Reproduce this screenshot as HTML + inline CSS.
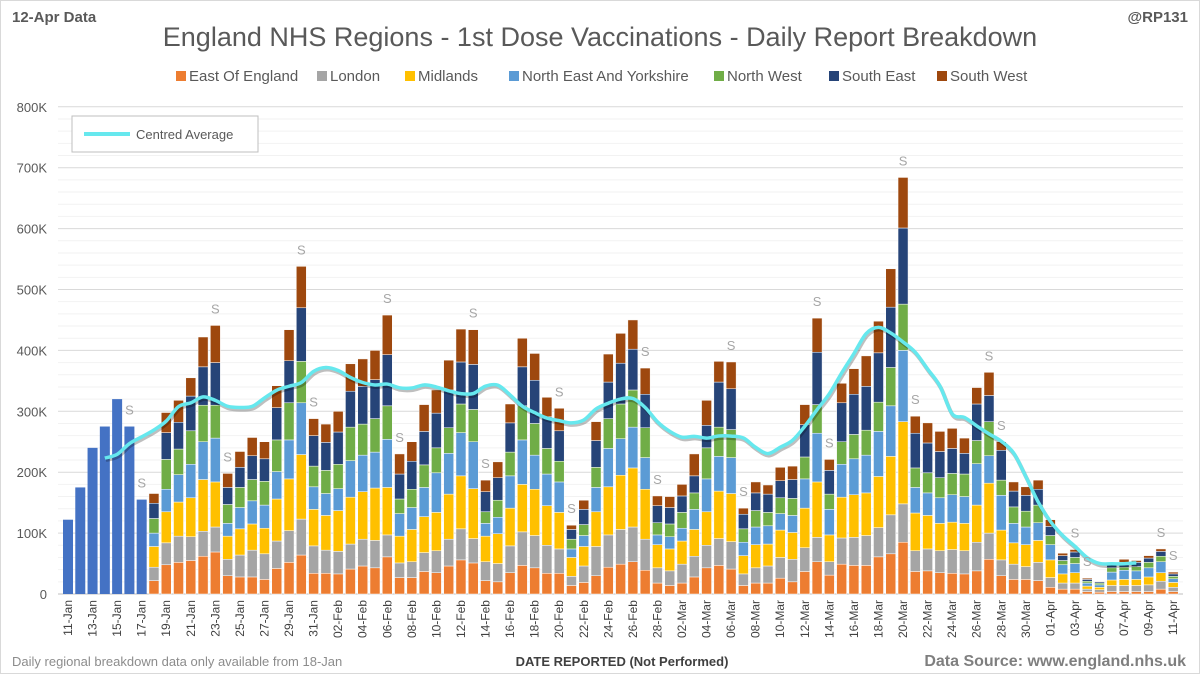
<!DOCTYPE html>
<html><head><meta charset="utf-8"><style>
body{margin:0;background:#fff;}
svg{display:block;font-family:"Liberation Sans",sans-serif;}
</style></head><body>
<svg id="chart" width="1200" height="674" viewBox="0 0 1200 674">
<rect x="0.5" y="0.5" width="1199" height="673" fill="#fff" stroke="#d9d9d9"/>
<text x="12" y="22" font-size="15" font-weight="bold" fill="#595959">12-Apr Data</text>
<text x="1188" y="22" font-size="15" font-weight="bold" fill="#595959" text-anchor="end">@RP131</text>
<text x="600" y="46" font-size="27" fill="#595959" text-anchor="middle">England NHS Regions - 1st Dose Vaccinations - Daily Report Breakdown</text>
<g id="grid"></g><g id="bars"></g><g id="avg"></g><g id="labels"></g><g id="legend"></g>
<rect x="72" y="116" width="186" height="36" fill="#fff" stroke="#bfbfbf"/>
<line x1="84" y1="134" x2="130" y2="134" stroke="#66E8EE" stroke-width="4"/>
<text x="136" y="139" font-size="13" fill="#595959">Centred Average</text>
<text x="12" y="666" font-size="13" fill="#8c8c8c">Daily regional breakdown data only available from 18-Jan</text>
<text x="622" y="666" font-size="13" font-weight="bold" fill="#404040" text-anchor="middle">DATE REPORTED (Not Performed)</text>
<text x="1186" y="666" font-size="16" font-weight="bold" fill="#7f7f7f" text-anchor="end">Data Source: www.england.nhs.uk</text>
</svg>
<script>
const preTotals=[122,175,240,275,320,275,155];
const eastEngland=[22,48,52,55,62,69,30,28,28,24,42,52,64,34,34,33,41,46,43,61,27,27,37,35,46,56,51,22,20,35,47,43,34,34,14,19,30,44,49,53,39,18,14,18,28,43,47,41,14,18,18,26,20,37,53,31,49,47,47,61,66,85,37,38,35,34,33,38,57,30,24,24,22,11,8,8,4,3,4,4,4,4,8,4];
const london=[22,36,43,39,41,41,27,36,44,42,45,52,59,45,38,37,41,44,45,36,24,26,31,36,44,51,40,31,30,44,55,53,46,40,15,27,48,53,57,57,51,25,24,31,34,37,44,45,19,25,28,34,37,39,40,22,43,46,49,48,64,63,34,36,36,39,38,47,43,26,25,21,30,16,10,10,4,4,10,10,10,11,13,7];
const midlands=[34,51,56,64,85,74,38,43,43,42,69,85,106,60,57,67,77,78,86,78,44,53,59,63,74,87,82,42,49,62,78,76,65,60,31,32,57,79,89,97,82,38,36,38,44,55,78,79,30,38,36,45,44,65,91,44,67,70,70,84,96,135,62,55,45,45,45,61,82,49,35,36,36,29,15,17,5,4,9,10,10,13,14,8];
const neYorks=[22,37,45,55,62,72,21,35,38,38,45,64,85,37,36,36,60,60,59,79,37,36,48,65,67,71,77,21,27,53,73,56,52,50,14,18,40,63,60,67,52,16,20,21,33,54,57,59,22,29,30,27,28,48,80,42,54,59,62,74,83,117,42,37,42,45,44,68,45,57,32,29,29,25,15,15,5,4,13,15,14,15,18,6];
const northWest=[24,49,42,55,60,54,31,33,35,39,52,61,68,34,38,40,55,51,55,55,24,30,37,41,42,47,53,19,28,39,56,52,42,34,16,18,33,49,57,61,49,20,21,26,27,51,48,46,22,27,22,26,28,36,47,25,37,40,41,48,63,76,32,33,33,35,37,38,56,25,27,26,29,15,7,10,3,3,7,5,7,9,9,4];
const southEast=[25,44,44,57,63,70,28,33,39,37,53,69,88,50,46,53,59,62,64,84,41,46,55,57,62,69,74,33,37,48,64,71,52,50,16,25,44,60,67,67,55,28,27,27,28,37,74,67,24,29,30,28,31,53,86,39,64,66,72,81,99,125,57,49,43,41,34,60,43,49,26,26,26,15,8,9,3,2,5,8,7,7,8,4];
const southWest=[16,33,36,30,49,61,23,26,30,28,36,51,68,28,30,34,45,45,48,65,33,32,44,38,49,54,57,19,26,31,47,44,32,37,7,15,31,46,49,48,43,16,18,19,36,41,34,44,10,18,15,22,22,33,56,18,32,42,50,52,63,83,28,33,33,33,25,27,38,14,15,14,15,11,4,4,2,1,4,5,3,4,4,3];
const regionNames=["East Of England","London","Midlands","North East And Yorkshire","North West","South East","South West"];
const yTicks=[0,100,200,300,400,500,600,700,800];
const yTickLabels=["0","100K","200K","300K","400K","500K","600K","700K","800K"];

const NS="http://www.w3.org/2000/svg";
const colors=["#ED7D31","#A5A5A5","#FFC000","#5B9BD5","#70AD47","#264478","#9E480E"];
const series=[eastEngland,london,midlands,neYorks,northWest,southEast,southWest];
const nDays=preTotals.length+eastEngland.length;
const x0=68,dx=12.28,y0=594,yPer=0.609,bw=10;
const X=i=>x0+i*dx;
const Y=v=>y0-v*yPer;
const months=["Jan","Feb","Mar","Apr"],mdays=[31,28,31,30];
function dateOf(i){let d=11+i,m=0;while(d>mdays[m]){d-=mdays[m];m++;}return {d,m};}
function mk(tag,attrs,parent){const e=document.createElementNS(NS,tag);for(const k in attrs)e.setAttribute(k,attrs[k]);parent.appendChild(e);return e;}
const grid=document.getElementById('grid'),bars=document.getElementById('bars'),labels=document.getElementById('labels'),legend=document.getElementById('legend'),avgG=document.getElementById('avg');
// minor grid
for(let v=20;v<=800;v+=20){if(v%100===0)continue;const l=mk('line',{x1:58,x2:1183,y1:Y(v),y2:Y(v),stroke:'#f2f2f2','stroke-width':1},grid);

}
yTicks.forEach((v,k)=>{const l=mk('line',{x1:58,x2:1183,y1:Y(v),y2:Y(v),stroke:v===0?'#bfbfbf':'#d9d9d9','stroke-width':1},grid);


const t=mk('text',{x:47,y:Y(v)+5,'font-size':13,fill:'#595959','text-anchor':'end'},grid);
t.textContent=yTickLabels[k];

});
const totals=[];
for(let i=0;i<nDays;i++){
 let top;
 if(i<preTotals.length){top=preTotals[i];
  const r=mk('rect',{x:X(i)-bw/2,y:Y(top),width:bw,height:top*yPer,fill:'#4472C4'},bars);
  
  
 } else {let c=0;const j=i-preTotals.length;
  series.forEach((s,k)=>{const v=s[j];const r=mk('rect',{x:X(i)-bw/2,y:Y(c+v),width:bw,height:v*yPer,fill:colors[k],stroke:'#fff','stroke-width':0.5},bars);
  
  
  c+=v;});top=c;}
 totals.push(top);
 const dt=dateOf(i);
 const dow=(i+1)%7; // 11-Jan Monday: Sat when i%7==5, Sun when 6
 if(i%7===5||i%7===6){const t=mk('text',{x:X(i),y:Y(top)-12,'font-size':13,fill:'#a6a6a6','text-anchor':'middle'},labels);
  t.textContent='S';
  
  }
 if(i%2===0){const lab=(dt.d<10?'0':'')+dt.d+'-'+months[dt.m];
  const t=mk('text',{x:X(i)+4,y:600,'font-size':12,fill:'#404040','text-anchor':'end',transform:`rotate(-90 ${X(i)+4} 600)`},labels);
  t.textContent=lab;
  
  }
}
// centred 7-day average
const pts=[];
for(let i=3;i<nDays-3;i++){let s=0;for(let k=-3;k<=3;k++)s+=totals[i+k];pts.push([X(i),Y(s/7)]);}
let d='M'+pts[0][0]+','+pts[0][1];
for(let i=0;i<pts.length-1;i++){const p0=pts[Math.max(0,i-1)],p1=pts[i],p2=pts[i+1],p3=pts[Math.min(pts.length-1,i+2)];
 const c1=[p1[0]+(p2[0]-p0[0])/6,p1[1]+(p2[1]-p0[1])/6],c2=[p2[0]-(p3[0]-p1[0])/6,p2[1]-(p3[1]-p1[1])/6];
 d+=` C${c1[0]},${c1[1]} ${c2[0]},${c2[1]} ${p2[0]},${p2[1]}`;}
const sh=mk('path',{d:d,fill:'none',stroke:'rgba(0,0,0,0.25)','stroke-width':4,transform:'translate(1,2)'},avgG);


const ln=mk('path',{d:d,fill:'none',stroke:'#66E8EE','stroke-width':3.5,'stroke-linejoin':'round'},avgG);


// legend
const lx=[176,317,405,509,714,829,937];
regionNames.forEach((n,k)=>{const r=mk('rect',{x:lx[k],y:71,width:10,height:10,fill:colors[k]},legend);
 
 
 const t=mk('text',{x:lx[k]+13,y:81,'font-size':15,fill:'#595959'},legend);
 t.textContent=n;
 
 });
</script>
</body></html>
